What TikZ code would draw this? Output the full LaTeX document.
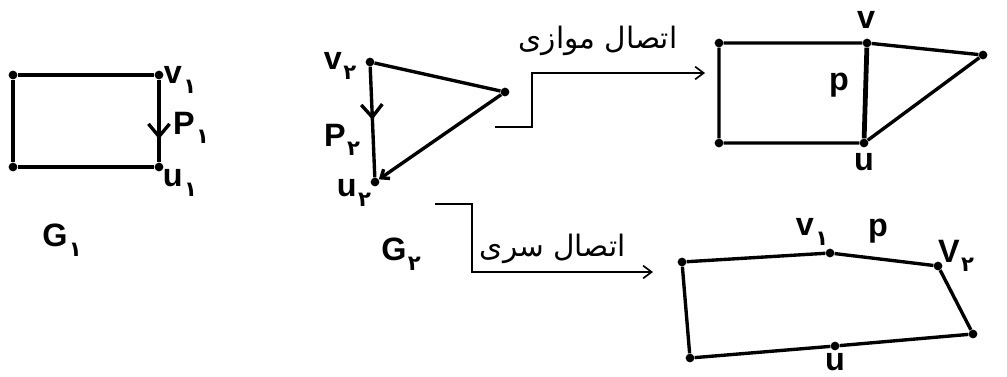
\documentclass[tikz,border=0pt]{standalone}
\usepackage{fontspec}
\setmainfont{Liberation Sans}
\newfontfamily\farsifont[Script=Arabic]{DejaVu Sans}
\TeXXeTstate=1
\usetikzlibrary{arrows.meta, decorations.markings}
\newcommand{\fa}[1]{{\farsifont\beginR #1\endR}}
\newcommand{\sub}[2]{#1\kern1pt\raisebox{-0.3em}{\farsifont\fontsize{15}{15}\selectfont #2}}

\begin{document}
\begin{tikzpicture}[
  x=0.025cm, y=-0.025cm,
  vertex/.style={circle, fill, inner sep=2.2pt},
  edge/.style={line width=2.4pt},
  pedge/.style={line width=3.4pt},
  flow/.style={line width=1.2pt, -{Straight Barb[length=6pt,width=9pt,line width=1.2pt]}},
  lbl/.style={font=\fontsize{23}{23}\selectfont\bfseries, inner sep=0pt},
  title/.style={font=\farsifont\fontsize{21}{21}\selectfont, inner sep=0pt},
  midarrow/.style={postaction={decorate}, decoration={markings,
    mark=at position #1 with {\arrow{Straight Barb[length=9pt,width=15pt,line width=2.4pt]}}}}
]
\useasboundingbox (0,0) rectangle (1007,376);

% Nodes
% G1
\node[vertex] (a1) at (13,75) {};
\node[vertex] (v1) at (159,75) {};
\node[vertex] (u1) at (159,167) {};
\node[vertex] (b1) at (13,167) {};
\node[lbl] (lv1) at (180,80) {\sub{v}{۱}};
\node[lbl] (lp1) at (191,128) {\sub{P}{۱}};
\node[lbl] (lu1) at (180,183) {\sub{u}{۱}};
\node[lbl] (g1) at (62,240) {\sub{G}{۱}};

% G2
\node[vertex] (v2) at (370,62) {};
\node[vertex] (r2) at (505,92) {};
\node[vertex] (u2) at (375,182) {};
\node[lbl] (lv2) at (340,66) {\sub{v}{۲}};
\node[lbl] (lp2) at (342,140) {\sub{P}{۲}};
\node[lbl] (lu2) at (354,193) {\sub{u}{۲}};
\node[lbl] (g2) at (401,254) {\sub{G}{۲}};

% parallel result
\node[vertex] (pa) at (719,43) {};
\node[vertex] (pv) at (867,43) {};
\node[vertex] (pr) at (983,55) {};
\node[vertex] (pu) at (864,143) {};
\node[vertex] (pb) at (719,143) {};
\node[lbl] (lpv) at (866,20) {v};
\node[lbl] (lpp) at (839,85) {p};
\node[lbl] (lpu) at (864,162) {u};

% series result
\node[vertex] (sa) at (682,262) {};
\node[vertex] (sv1) at (830,253) {};
\node[vertex] (sv2) at (938,266) {};
\node[vertex] (sr) at (973,334) {};
\node[vertex] (su) at (835,346) {};
\node[vertex] (sb) at (690,358) {};
\node[lbl] (lsv1) at (812,232) {\sub{v}{۱}};
\node[lbl] (lsp) at (878,231) {p};
\node[lbl] (lsv2) at (956,256) {\sub{V}{۲}};
\node[lbl, anchor=north] (lsu) at (835,353) {u};

% connector corners and labels
\coordinate (pstart) at (495,127);
\coordinate (pend) at (705,73);
\coordinate (sstart) at (435,204);
\coordinate (send) at (653,272);
\node[title] (tpar) at (598,41) {\fa{اتصال موازی}};
\node[title] (tser) at (553,249) {\fa{اتصال سری}};

% Edges
\draw[edge] (v1) -- (a1) -- (b1) -- (u1);
\draw[edge, midarrow=0.72] (v1) -- (u1);
\draw[edge] (v2) -- (r2);
\draw[edge, -{Straight Barb[length=5pt,width=8pt]}] (r2) -- (u2);
\draw[edge, midarrow=0.48] (v2) -- (u2);
\draw[edge] (pv) -- (pa) -- (pb) -- (pu) -- (pr) -- (pv);
\draw[pedge] (pv) -- (pu);
\draw[edge] (sv1) -- (sa) -- (sb) -- (su) -- (sr) -- (sv2);
\draw[edge] (sv1) -- (sv2);

% Operations
\draw[flow] (pstart) -- ++(37,0) |- (pend);
\draw[flow] (sstart) -- ++(37,0) |- (send);

\end{tikzpicture}
\end{document}
